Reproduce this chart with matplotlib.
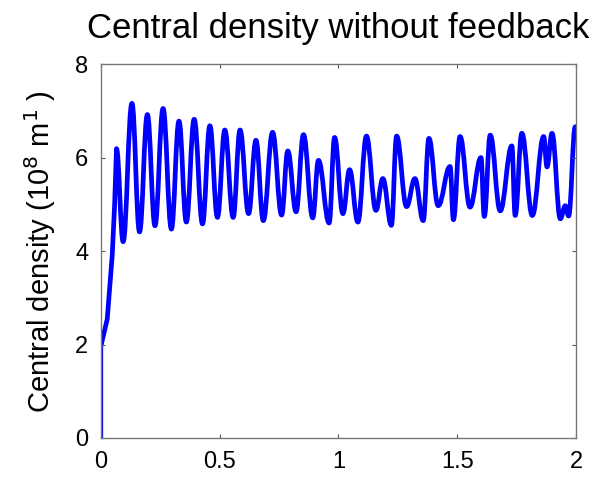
import numpy as np
import matplotlib
matplotlib.use("Agg")
import matplotlib.pyplot as plt
from matplotlib.path import Path
from matplotlib.patches import PathPatch

t = [0.0, 0.0, 0.027, 0.048, 0.058, 0.066, 0.094, 0.131, 0.163, 0.196,
     0.228, 0.262, 0.297, 0.329, 0.360, 0.393, 0.428, 0.459, 0.491, 0.522,
     0.557, 0.586, 0.622, 0.653, 0.684, 0.723, 0.761, 0.787, 0.822, 0.853,
     0.892, 0.916, 0.961, 0.984, 1.019, 1.047, 1.082, 1.118, 1.158, 1.187,
     1.223, 1.245, 1.287, 1.322, 1.357, 1.381, 1.420, 1.470, 1.484, 1.512,
     1.554, 1.600, 1.614, 1.639, 1.681, 1.730, 1.744, 1.772, 1.816, 1.864,
     1.878, 1.899, 1.934, 1.955, 1.969, 1.997]
dens = [0.0, 1.96, 2.54, 3.90, 4.97, 6.19, 4.20, 7.16, 4.41, 6.92,
        4.54, 7.05, 4.47, 6.78, 4.62, 6.82, 4.58, 6.68, 4.72, 6.59,
        4.72, 6.59, 4.80, 6.37, 4.65, 6.54, 4.77, 6.14, 4.84, 6.49,
        4.71, 5.94, 4.60, 6.43, 4.80, 5.74, 4.62, 6.46, 4.87, 5.55,
        4.55, 6.46, 4.95, 5.55, 4.65, 6.41, 4.97, 5.81, 4.67, 6.45,
        4.94, 6.00, 4.74, 6.48, 4.86, 6.25, 4.76, 6.52, 4.76, 6.45,
        5.80, 6.52, 4.69, 4.97, 4.75, 6.66]
n_rise = 6  # first points (initial ramp) are joined straight

xticks = [0, 0.5, 1, 1.5, 2]
xticklabels = ['0', '0.5', '1', '1.5', '2']
yticks = [0, 2, 4, 6, 8]

# smooth line: straight ramp, then curves with flat tangents at each turning point
verts = [(t[0], dens[0])]
codes = [Path.MOVETO]
for i in range(1, n_rise):
    verts.append((t[i], dens[i]))
    codes.append(Path.LINETO)
for i in range(n_rise, len(t)):
    x0, y0 = t[i - 1], dens[i - 1]
    x1, y1 = t[i], dens[i]
    dx = x1 - x0
    verts += [(x0 + 0.4 * dx, y0), (x1 - 0.4 * dx, y1), (x1, y1)]
    codes += [Path.CURVE4] * 3

plt.rcParams['font.family'] = ['Liberation Sans', 'DejaVu Sans']

fig = plt.figure(figsize=(6, 4.8), dpi=100)
ax = fig.add_axes([0.168, 0.0875, 0.792, 0.779])
ax.add_patch(PathPatch(Path(verts, codes), fill=False, edgecolor='#0000ff',
                       linewidth=3.4, joinstyle='round', capstyle='round'))

ax.set_xlim(0, 2)
ax.set_ylim(0, 8)
ax.set_xticks(xticks)
ax.set_xticklabels(xticklabels)
ax.set_yticks(yticks)
ax.tick_params(direction='in', length=3, width=0.8, colors='#555555',
               labelcolor='black', labelsize=17, top=True, right=True, pad=9)
for s in ax.spines.values():
    s.set_color('#777777')
    s.set_linewidth(1)

ax.set_title('Central density without feedback', fontsize=25, pad=19)
ax.set_ylabel('Central density (10$^8$ m$^1$ )', fontsize=21, labelpad=12)

fig.savefig('out.png', dpi=100)
